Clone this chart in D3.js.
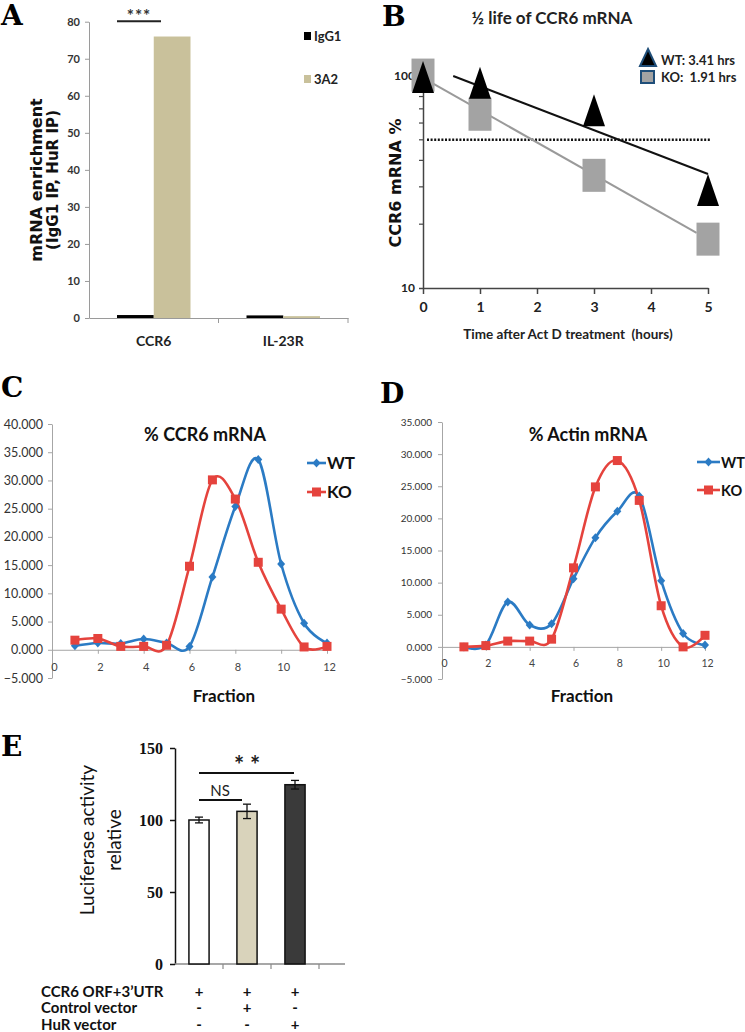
<!DOCTYPE html>
<html><head><meta charset="utf-8">
<script src="https://cdn.jsdelivr.net/npm/d3@7"></script>
<style>body{margin:0;background:#fff}svg{display:block}</style>
</head><body>
<svg id="fig" width="745" height="1032"></svg>
<script>
// ---------------- DATA ----------------
// Panel A
const aCategories = ["CCR6", "IL-23R"];
const aSeries = ["IgG1", "3A2"];
const aIgG1 = [0.8, 0.7];
const a3A2 = [76, 0.5];
const aTicks = [0, 10, 20, 30, 40, 50, 60, 70, 80];
const aSig = "***";

// Panel B
const bTitle = "½ life of CCR6 mRNA";
const bTimes = [0, 1, 3, 5];
const bWT = [99, 93, 69, 29];
const bKO = [101, 66, 34, 17];
const bWTFitT = [0.53, 5];
const bWTFitV = [100, 34.5];
const bKOFitT = [0, 4.8];
const bKOFitV = [98, 18.2];
const bHalf = 50;
const bXTicks = [0, 1, 2, 3, 4, 5];
const bYLabels = [10, 100];
const bYMinor = [20, 30, 40, 50, 60, 70, 80, 90];
const bLegend = ["WT: 3.41 hrs", "KO:  1.91 hrs"];

// Panels C & D
const fractions = [1, 2, 3, 4, 5, 6, 7, 8, 9, 10, 11, 12];
const cWT = [0.7, 1.2, 1.1, 1.9, 1.2, 0.6, 12.9, 25.4, 33.7, 15.2, 4.7, 1.2];
const cKO = [1.7, 2.0, 0.6, 0.6, 0.8, 14.8, 30.1, 26.7, 15.5, 7.2, 0.5, 0.6];
const dWT = [0.0, 0.3, 7.0, 3.4, 3.6, 10.6, 17.0, 21.1, 23.5, 10.3, 2.1, 0.3];
const dKO = [0.0, 0.2, 0.9, 0.9, 1.2, 12.3, 24.9, 29.0, 22.8, 6.4, 0.0, 1.8];
const cYTicks = [-5, 0, 5, 10, 15, 20, 25, 30, 35, 40];
const dYTicks = [-5, 0, 5, 10, 15, 20, 25, 30, 35];
const fracTicks = [0, 2, 4, 6, 8, 10, 12];

// Panel E
const eGroups = ["ctrl", "control vector", "HuR vector"];
const eValues = [100, 106, 124.5];
const eErrors = [2, 5, 3];
const eTicks = [0, 50, 100, 150];
const eRows = ["CCR6 ORF+3’UTR", "Control vector", "HuR vector"];
const eSigns = [["+", "+", "+"], ["-", "+", "-"], ["-", "-", "+"]];

// ---------------- STYLE ----------------
const SANS = "Lato, 'Open Sans', 'Liberation Sans', sans-serif";
const VERD = "'DejaVu Sans', Verdana, sans-serif";
const SLAB = "'DejaVu Serif', 'Liberation Serif', serif";
const SERIF = "'Liberation Serif', 'DejaVu Serif', serif";
const BLUE = "#2b7bc4", RED = "#e5433d";

const svg = d3.select("#fig");

function panelLabel(t, x, y) {
  svg.append("text").attr("x", x).attr("y", y).text(t)
    .attr("font-family", SLAB).attr("font-weight", "bold").attr("font-size", 28).attr("fill", "#000");
}
panelLabel("A", 1, 25);
panelLabel("B", 382, 26);
panelLabel("C", 1, 397);
panelLabel("D", 380, 403);
panelLabel("E", 1, 756);

function styleAxis(g, color, width) {
  g.select(".domain").attr("stroke", color).attr("stroke-width", width);
  g.selectAll(".tick line").attr("stroke", color).attr("stroke-width", width);
}

// ---------------- PANEL A ----------------
{
  const g = svg.append("g");
  const y = d3.scaleLinear().domain([0, 80]).range([318, 21.7]);
  const x = d3.scaleBand().domain(aCategories).range([89, 348]);
  const xs = d3.scaleBand().domain(aSeries).range([28, 101.5]);
  const colors = { "IgG1": "#000000", "3A2": "#c9c19b" };
  const vals = { "IgG1": aIgG1, "3A2": a3A2 };

  const ya = g.append("g").attr("transform", "translate(89,0)")
    .call(d3.axisLeft(y).tickValues(aTicks).tickSize(4).tickPadding(5).tickSizeOuter(0));
  styleAxis(ya, "#9a9a9a", 1);
  ya.selectAll("text").attr("font-family", SANS).attr("font-weight", "bold").attr("font-size", 11).attr("fill", "#333");

  aSeries.forEach(s => {
    g.selectAll(null).data(aCategories).enter().append("rect")
      .attr("x", d => x(d) + xs(s)).attr("width", xs.bandwidth())
      .attr("y", (d, i) => y(vals[s][i])).attr("height", (d, i) => y(0) - y(vals[s][i]))
      .attr("fill", colors[s]);
  });

  const xa = g.append("g").attr("transform", "translate(0,318)")
    .call(d3.axisBottom(x).tickSize(0).tickSizeOuter(0).tickPadding(18));
  styleAxis(xa, "#9a9a9a", 1);
  xa.selectAll("text").attr("font-family", SANS).attr("font-weight", "bold").attr("font-size", 14).attr("fill", "#222");
  g.selectAll(null).data(aCategories).enter().append("line")
    .attr("x1", d => x(d) + x.bandwidth()).attr("x2", d => x(d) + x.bandwidth())
    .attr("y1", 318).attr("y2", 323).attr("stroke", "#9a9a9a");

  // significance
  const c0 = x("CCR6");
  g.append("line").attr("x1", c0 + xs("IgG1")).attr("x2", c0 + xs("IgG1") + 44)
    .attr("y1", y(80) - 0.5).attr("y2", y(80) - 0.5).attr("stroke", "#222").attr("stroke-width", 2);
  g.append("text").attr("x", c0 + xs("IgG1") + 22).attr("y", 22).attr("text-anchor", "middle")
    .attr("font-family", SANS).attr("font-weight", "bold").attr("font-size", 17).attr("letter-spacing", 1).attr("fill", "#333").text(aSig);

  // legend
  aSeries.forEach((s, i) => {
    g.append("rect").attr("x", 304).attr("y", 32 + i * 43).attr("width", 7).attr("height", 8).attr("fill", colors[s]);
    g.append("text").attr("x", 314).attr("y", 41 + i * 43).text(s)
      .attr("font-family", SANS).attr("font-weight", "bold").attr("font-size", 13).attr("fill", "#222");
  });

  // y title
  const t = g.append("g").attr("transform", "translate(0,180) rotate(-90)");
  t.append("text").attr("x", 0).attr("y", 42).attr("text-anchor", "middle").text("mRNA enrichment")
    .attr("font-family", VERD).attr("font-weight", "bold").attr("font-size", 16).attr("fill", "#111");
  t.append("text").attr("x", 0).attr("y", 58).attr("text-anchor", "middle").text("(IgG1 IP, HuR IP)")
    .attr("font-family", VERD).attr("font-weight", "bold").attr("font-size", 15)
    .attr("textLength", 140).attr("lengthAdjust", "spacing").attr("fill", "#111");
}

// ---------------- PANEL B ----------------
{
  const g = svg.append("g");
  const x = d3.scaleLinear().domain([0, 5]).range([423, 708]);
  const y = d3.scaleLog().domain([10, 100]).range([288, 76]);

  g.append("text").attr("x", 552).attr("y", 24).attr("text-anchor", "middle").text(bTitle)
    .attr("font-family", SANS).attr("font-weight", "bold").attr("font-size", 17).attr("fill", "#222");

  // axes
  const ya = g.append("g").attr("transform", "translate(423,0)")
    .call(d3.axisLeft(y).tickValues(bYLabels).tickSize(4).tickPadding(4).tickSizeOuter(0).tickFormat(d3.format("d")));
  styleAxis(ya, "#444", 1.5);
  ya.selectAll("text").attr("font-family", SANS).attr("font-weight", "bold").attr("font-size", 12).attr("fill", "#222");
  g.selectAll(null).data(bYMinor).enter().append("line")
    .attr("x1", 419).attr("x2", 423).attr("y1", d => y(d)).attr("y2", d => y(d)).attr("stroke", "#444").attr("stroke-width", 1.2);

  const xa = g.append("g").attr("transform", "translate(0,288)")
    .call(d3.axisBottom(x).tickValues(bXTicks).tickSize(6).tickPadding(8).tickSizeOuter(0).tickFormat(d3.format("d")));
  styleAxis(xa, "#444", 1.5);
  xa.selectAll("text").attr("font-family", SANS).attr("font-weight", "bold").attr("font-size", 14).attr("fill", "#222");

  g.append("text").attr("x", 568).attr("y", 339).attr("text-anchor", "middle").text("Time after Act D treatment  (hours)")
    .attr("font-family", SANS).attr("font-weight", "bold").attr("font-size", 13.5).attr("fill", "#222").style("white-space", "pre");
  g.append("text").attr("transform", "translate(401,183) rotate(-90)").attr("text-anchor", "middle").text("CCR6 mRNA %")
    .attr("font-family", VERD).attr("font-weight", "bold").attr("font-size", 16).attr("fill", "#111");

  // half line
  g.append("line").attr("x1", x(0) + 4).attr("x2", x(5) + 2).attr("y1", y(bHalf)).attr("y2", y(bHalf))
    .attr("stroke", "#111").attr("stroke-width", 2.5).attr("stroke-dasharray", "2,1.6");

  // fit lines
  const line = d3.line().x(d => x(d[0])).y(d => y(d[1]));
  g.append("path").attr("d", line(bKOFitT.map((t, i) => [t, bKOFitV[i]])))
    .attr("stroke", "#9a9a9a").attr("stroke-width", 2).attr("fill", "none");
  g.append("path").attr("d", line(bWTFitT.map((t, i) => [t, bWTFitV[i]])))
    .attr("stroke", "#111").attr("stroke-width", 2).attr("fill", "none");

  // markers
  g.selectAll(null).data(bTimes).enter().append("rect")
    .attr("x", d => x(d) - 11.5).attr("y", (d, i) => y(bKO[i]) - 16.5).attr("width", 23).attr("height", 33)
    .attr("fill", "#a3a3a3");
  g.selectAll(null).data(bTimes).enter().append("path")
    .attr("d", (d, i) => { const cx = x(d), cy = y(bWT[i]); return `M${cx},${cy - 16}L${cx + 11},${cy + 16}L${cx - 11},${cy + 16}Z`; })
    .attr("fill", "#000");

  // legend
  g.append("path").attr("d", "M648,49L656,66L640,66Z").attr("fill", "#000").attr("stroke", "#1f4e79").attr("stroke-width", 2);
  g.append("rect").attr("x", 641).attr("y", 71).attr("width", 13).attr("height", 12).attr("fill", "#a3a3a3")
    .attr("stroke", "#1f4e79").attr("stroke-width", 2);
  bLegend.forEach((t, i) => {
    g.append("text").attr("x", 661).attr("y", 65 + i * 17).text(t).style("white-space", "pre")
      .attr("font-family", SANS).attr("font-weight", "bold").attr("font-size", 13).attr("fill", "#222");
  });
}

// ---------------- PANELS C & D ----------------
function profile(opts) {
  const g = svg.append("g");
  const x = d3.scaleLinear().domain([0, 12]).range(opts.xr);
  const y = d3.scaleLinear().domain([-5, opts.yMax]).range(opts.yr);

  const ya = g.append("g").attr("transform", `translate(${opts.xr[0]},0)`)
    .call(d3.axisLeft(y).tickValues(opts.yTicks).tickSize(4).tickPadding(opts.yPad).tickSizeOuter(0).tickFormat(d3.format(".3f")));
  styleAxis(ya, "#a6a6a6", 1);
  ya.selectAll("text").attr("font-family", SANS).attr("font-size", opts.yFont).attr("fill", "#333");

  const xa = g.append("g").attr("transform", `translate(0,${y(0)})`)
    .call(d3.axisBottom(x).tickValues(fracTicks).tickSize(4).tickPadding(opts.xPad).tickSizeOuter(0));
  styleAxis(xa, "#a6a6a6", 1);
  xa.selectAll("text").attr("font-family", SANS).attr("font-size", opts.xFont).attr("fill", "#444").attr("dx", 2);

  g.append("text").attr("x", opts.titleX).attr("y", 441).attr("text-anchor", "middle").text(opts.title)
    .attr("font-family", SANS).attr("font-weight", "bold").attr("font-size", 18).attr("fill", "#111");
  g.append("text").attr("x", opts.fracX).attr("y", 702).attr("text-anchor", "middle").text("Fraction")
    .attr("font-family", SANS).attr("font-weight", "bold").attr("font-size", 17).attr("fill", "#111");

  const line = d3.line().x((d, i) => x(fractions[i])).y(d => y(d)).curve(d3.curveCardinal.tension(0));
  g.append("path").attr("d", line(opts.wt)).attr("stroke", BLUE).attr("stroke-width", 2.6).attr("fill", "none");
  g.append("path").attr("d", line(opts.ko)).attr("stroke", RED).attr("stroke-width", 2.6).attr("fill", "none");
  g.selectAll(null).data(opts.wt).enter().append("path")
    .attr("d", (d, i) => { const cx = x(fractions[i]), cy = y(d); return `M${cx},${cy - 4.5}L${cx + 4},${cy}L${cx},${cy + 4.5}L${cx - 4},${cy}Z`; })
    .attr("fill", BLUE);
  g.selectAll(null).data(opts.ko).enter().append("rect")
    .attr("x", (d, i) => x(fractions[i]) - 4.5).attr("y", d => y(d) - 4.5).attr("width", 9).attr("height", 9)
    .attr("fill", RED);

  // legend
  const L = opts.leg;
  [["WT", BLUE, "di", L.y1], ["KO", RED, "sq", L.y2]].forEach(([t, c, m, ly]) => {
    g.append("line").attr("x1", L.x0).attr("x2", L.x1).attr("y1", ly).attr("y2", ly).attr("stroke", c).attr("stroke-width", 2.6);
    const cx = (L.x0 + L.x1) / 2;
    if (m === "di") g.append("path").attr("d", `M${cx},${ly - 4.5}L${cx + 4},${ly}L${cx},${ly + 4.5}L${cx - 4},${ly}Z`).attr("fill", c);
    else g.append("rect").attr("x", cx - 4.5).attr("y", ly - 4.5).attr("width", 9).attr("height", 9).attr("fill", c);
    g.append("text").attr("x", L.x1 + 1).attr("y", ly + 6).text(t)
      .attr("font-family", SANS).attr("font-weight", "bold").attr("font-size", L.font).attr("fill", "#111");
  });
}

profile({
  xr: [52, 327], yr: [678, 424], yMax: 40, yTicks: cYTicks, yFont: 12.5, yPad: 5, xFont: 11, xPad: 9,
  title: "% CCR6 mRNA", titleX: 205, fracX: 224, wt: cWT, ko: cKO,
  leg: { x0: 307, x1: 326, y1: 463, y2: 492, font: 17 }
});
profile({
  xr: [442, 705], yr: [679, 422], yMax: 35, yTicks: dYTicks, yFont: 10, yPad: 6, xFont: 10.5, xPad: 9,
  title: "% Actin mRNA", titleX: 588, fracX: 582, wt: dWT, ko: dKO,
  leg: { x0: 697, x1: 720, y1: 462, y2: 490, font: 14.5 }
});

// ---------------- PANEL E ----------------
{
  const g = svg.append("g");
  const y = d3.scaleLinear().domain([0, 150]).range([964, 748]);
  const x = d3.scaleBand().domain(eGroups).range([175, 319]).paddingInner(0.58).paddingOuter(0.29);
  const fills = ["#ffffff", "#d9d3bb", "#3a3a3a"];

  const ya = g.append("g").attr("transform", "translate(175,0)")
    .call(d3.axisLeft(y).tickValues(eTicks).tickSize(5).tickPadding(7).tickSizeOuter(0));
  styleAxis(ya, "#111", 1.5);
  ya.selectAll("text").attr("font-family", SERIF).attr("font-weight", "bold").attr("font-size", 16).attr("fill", "#111");

  // x axis
  g.append("line").attr("x1", 175).attr("x2", 345).attr("y1", 964).attr("y2", 964).attr("stroke", "#8a8a8a").attr("stroke-width", 1.5);
  const step = x.step();
  g.selectAll(null).data(eGroups).enter().append("line")
    .attr("x1", d => x(d) + x.bandwidth() / 2 + step / 2).attr("x2", d => x(d) + x.bandwidth() / 2 + step / 2)
    .attr("y1", 964).attr("y2", 969).attr("stroke", "#8a8a8a").attr("stroke-width", 1.2);

  g.selectAll(null).data(eGroups).enter().append("rect")
    .attr("x", d => x(d)).attr("width", x.bandwidth())
    .attr("y", (d, i) => y(eValues[i])).attr("height", (d, i) => y(0) - y(eValues[i]))
    .attr("fill", (d, i) => fills[i]).attr("stroke", "#111").attr("stroke-width", 1.5);

  // error bars
  eGroups.forEach((d, i) => {
    const cx = x(d) + x.bandwidth() / 2;
    const y1 = y(eValues[i] + eErrors[i]), y2 = y(eValues[i] - eErrors[i]);
    g.append("line").attr("x1", cx).attr("x2", cx).attr("y1", y1).attr("y2", y2).attr("stroke", "#111").attr("stroke-width", 1.3);
    [y1, y2].forEach(yy => g.append("line").attr("x1", cx - 4).attr("x2", cx + 4).attr("y1", yy).attr("y2", yy)
      .attr("stroke", "#111").attr("stroke-width", 1.3));
  });

  // significance
  const c = eGroups.map(d => x(d) + x.bandwidth() / 2);
  g.append("line").attr("x1", c[0]).attr("x2", c[2] - 1).attr("y1", 773).attr("y2", 773).attr("stroke", "#111").attr("stroke-width", 2);
  g.append("text").attr("x", (c[0] + c[2]) / 2).attr("y", 774).attr("text-anchor", "middle").text("* *")
    .attr("font-family", SANS).attr("font-weight", "bold").attr("font-size", 24).attr("fill", "#222");
  g.append("line").attr("x1", c[0]).attr("x2", c[1] - 5).attr("y1", 800).attr("y2", 800).attr("stroke", "#111").attr("stroke-width", 2);
  g.append("text").attr("x", (c[0] + c[1]) / 2 - 3).attr("y", 796).attr("text-anchor", "middle").text("NS")
    .attr("font-family", SANS).attr("font-size", 15).attr("fill", "#222");

  // y title
  const t = g.append("g").attr("transform", "translate(0,840) rotate(-90)");
  t.append("text").attr("x", 0).attr("y", 94).attr("text-anchor", "middle").text("Luciferase activity")
    .attr("font-family", SANS).attr("font-size", 19).attr("fill", "#111");
  t.append("text").attr("x", 0).attr("y", 121).attr("text-anchor", "middle").text("relative")
    .attr("font-family", SANS).attr("font-size", 19).attr("fill", "#111");

  // table
  const rowY = [997, 1013, 1030];
  eRows.forEach((r, ri) => {
    g.append("text").attr("x", 41).attr("y", rowY[ri]).text(r)
      .attr("font-family", SANS).attr("font-weight", "bold").attr("font-size", 15).attr("fill", "#111");
    eSigns[ri].forEach((s, ci) => {
      g.append("text").attr("x", c[ci]).attr("y", rowY[ri]).attr("text-anchor", "middle").text(s)
        .attr("font-family", SANS).attr("font-weight", "bold").attr("font-size", 15).attr("fill", "#111");
    });
  });
}
</script>
</body></html>
